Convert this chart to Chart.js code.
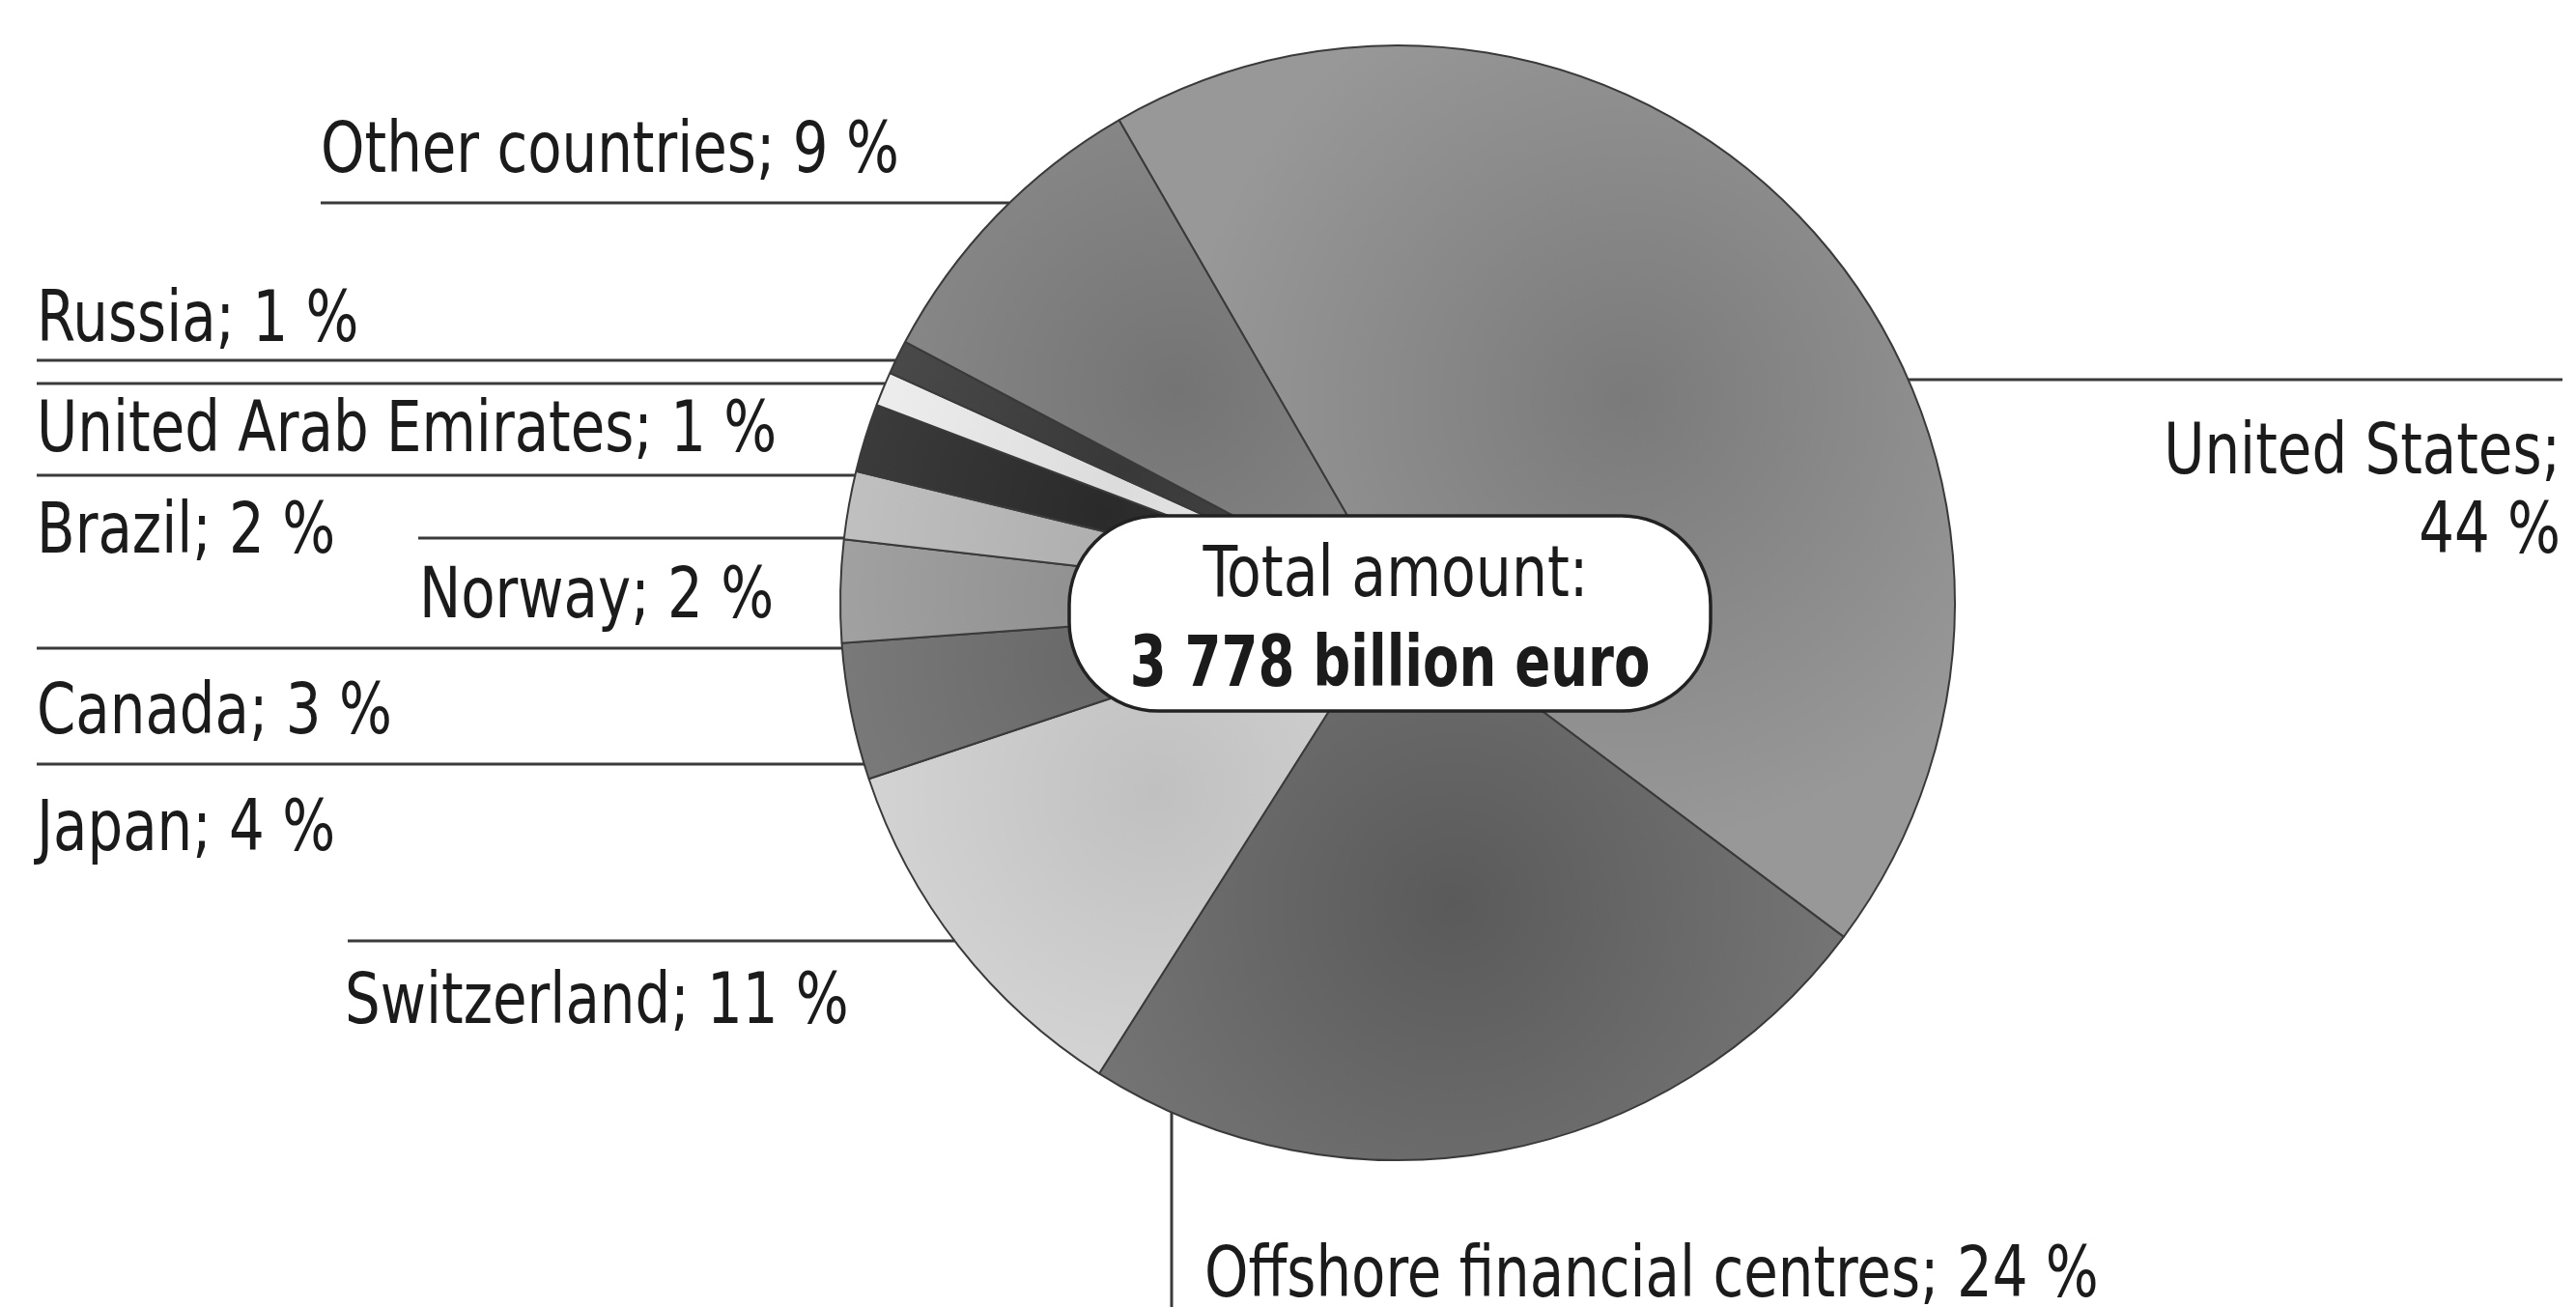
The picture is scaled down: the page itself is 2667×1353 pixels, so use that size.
<!DOCTYPE html>
<html>
<head>
<meta charset="utf-8">
<script src="https://cdn.jsdelivr.net/npm/chart.js@4.4.0/dist/chart.umd.min.js"></script>
<style>
  html, body { margin: 0; padding: 0; background: #fff; }
  #wrap { position: relative; width: 2667px; height: 1353px; }
</style>
</head>
<body>
<div id="wrap"><canvas id="holdings"></canvas></div>
<script>
const categories = ['United States', 'Offshore financial centres', 'Switzerland', 'Japan', 'Canada',
  'Norway', 'Brazil', 'United Arab Emirates', 'Russia', 'Other countries']
const shares = [44, 24, 11, 4, 3, 2, 2, 1, 1, 9]
const sliceGreys = ['#8e8e8e', '#6e6e6e', '#d4d4d4', '#7c7c7c', '#a4a4a4',
  '#c3c3c3', '#3e3e3e', '#f0f0f0', '#4c4c4c', '#888888']
const totalLines = ['Total amount:', '3 778 billion euro']

const ROTATION = -30
const FONT = '"DejaVu Sans Condensed", "DejaVu Sans", sans-serif'
const FONT_PX = 73
const INK = '#1b1b1b'

// where each label and its leader line sit, px from the pie centre (x values are page px)
const labelSpots = [
  { lineDy: -231, lineTo: 2653, textX: 2651, baselines: [-134, -52], align: 'right', wrap: true },
  { vertical: true, lineDx: -234, lineTo: 1353, textX: 1247, baselines: [718] },
  { lineDy: 350, lineFrom: 360, textX: 357, baselines: [435] },
  { lineDy: 167, lineFrom: 38, textX: 38, baselines: [256] },
  { lineDy: 47, lineFrom: 38, textX: 38, baselines: [135] },
  { lineDy: -67, lineFrom: 433, textX: 434, baselines: [15] },
  { lineDy: -132, lineFrom: 38, textX: 38, baselines: [-52] },
  { lineDy: -227, lineFrom: 38, textX: 38, baselines: [-157] },
  { lineDy: -251, lineFrom: 38, textX: 38, baselines: [-271] },
  { lineDy: -414, lineFrom: 332, textX: 332, baselines: [-446] }
]

function shade(hex, amt) {
  const n = parseInt(hex.slice(1), 16)
  const c = v => Math.max(0, Math.min(255, v + amt))
  return `rgb(${c(n >> 16)}, ${c((n >> 8) & 255)}, ${c(n & 255)})`
}

// darker patch in the middle of each slice, lighter towards the rim
function shadedFill(context) {
  const i = context.dataIndex
  const base = sliceGreys[i]
  const area = context.chart.chartArea
  if (!area || i === undefined) return base
  const cx = (area.left + area.right) / 2
  const cy = (area.top + area.bottom) / 2
  const R = Math.min(area.right - area.left, area.bottom - area.top) / 2
  const total = shares.reduce((a, b) => a + b, 0)
  const before = shares.slice(0, i).reduce((a, b) => a + b, 0)
  const mid = (ROTATION - 90) * Math.PI / 180 + (before + shares[i] / 2) / total * Math.PI * 2
  const px = cx + Math.cos(mid) * R * 0.55
  const py = cy + Math.sin(mid) * R * 0.55
  const g = context.chart.ctx.createRadialGradient(px, py, 0, px, py, R * 0.8)
  g.addColorStop(0, shade(base, -20))
  g.addColorStop(1, shade(base, 10))
  return g
}

// the condensed typeface is narrower than anything installed, so squeeze horizontally
function narrowText(ctx, text, x, y, squeeze) {
  ctx.save()
  ctx.translate(x, y)
  ctx.scale(squeeze, 1)
  ctx.fillText(text, 0, 0)
  ctx.restore()
}

const leaderLabels = {
  id: 'leaderLabels',
  afterDatasetsDraw(chart) {
    const arc = chart.getDatasetMeta(0).data[0]
    if (!arc) return
    const { x: cx, y: cy, outerRadius: R } = arc
    const ctx = chart.ctx
    ctx.save()
    ctx.strokeStyle = '#3a3a3a'
    ctx.lineWidth = 3
    ctx.fillStyle = INK
    ctx.font = `${FONT_PX}px ${FONT}`
    ctx.textBaseline = 'alphabetic'
    labelSpots.forEach((s, i) => {
      ctx.beginPath()
      if (s.vertical) {
        const x = cx + s.lineDx
        ctx.moveTo(x, cy + Math.sqrt(R * R - s.lineDx * s.lineDx))
        ctx.lineTo(x, s.lineTo)
      } else {
        const y = cy + s.lineDy
        const half = Math.sqrt(R * R - s.lineDy * s.lineDy)
        if (s.align === 'right') {
          ctx.moveTo(cx + half, y)
          ctx.lineTo(s.lineTo, y)
        } else {
          ctx.moveTo(s.lineFrom, y)
          ctx.lineTo(cx - half, y)
        }
      }
      ctx.stroke()

      const rows = s.wrap
        ? [categories[i] + ';', shares[i] + ' %']
        : [`${categories[i]}; ${shares[i]} %`]
      ctx.textAlign = s.align || 'left'
      rows.forEach((row, k) => narrowText(ctx, row, s.textX, cy + s.baselines[k], 0.88))
    })

    // total amount box
    const bx = cx - 8, by = cy + 11, bw = 664, bh = 202
    ctx.beginPath()
    ctx.roundRect(bx - bw / 2, by - bh / 2, bw, bh, 92)
    ctx.fillStyle = '#ffffff'
    ctx.fill()
    ctx.lineWidth = 3.5
    ctx.strokeStyle = '#222'
    ctx.stroke()
    ctx.fillStyle = INK
    ctx.textAlign = 'center'
    ctx.font = `${FONT_PX}px ${FONT}`
    narrowText(ctx, totalLines[0], cx - 2, cy - 7, 0.89)
    ctx.font = `bold ${FONT_PX}px ${FONT}`
    narrowText(ctx, totalLines[1], cx - 8, cy + 86, 0.83)
    ctx.restore()
  }
}

new Chart(document.getElementById('holdings'), {
  type: 'pie',
  data: {
    labels: categories,
    datasets: [{
      data: shares,
      backgroundColor: shadedFill,
      borderColor: '#3a3a3a',
      borderWidth: 2
    }]
  },
  options: {
    responsive: true,
    maintainAspectRatio: false,
    animation: false,
    rotation: ROTATION,
    layout: { padding: { left: 869, right: 642, top: 46, bottom: 151 } },
    plugins: {
      legend: { display: false },
      tooltip: { enabled: false }
    }
  },
  plugins: [leaderLabels]
})
</script>
</body>
</html>
